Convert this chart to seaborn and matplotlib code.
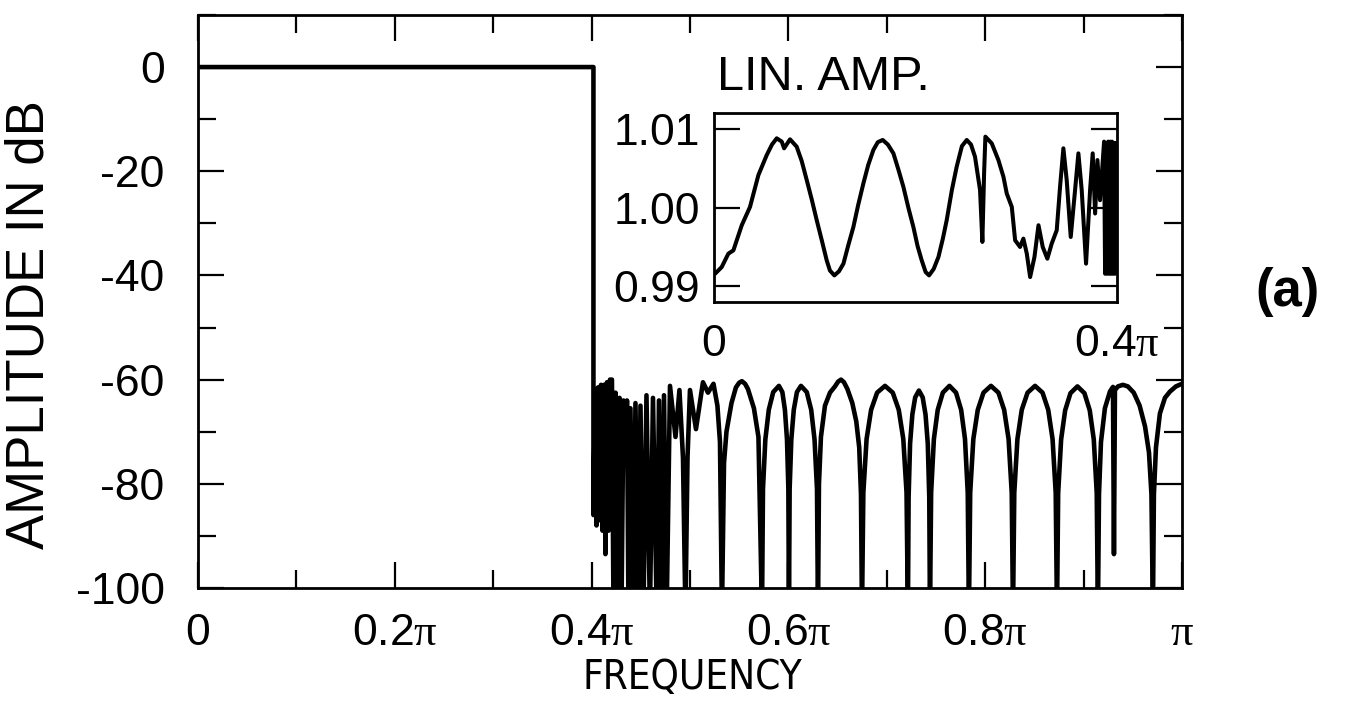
import matplotlib
matplotlib.use("Agg")
import matplotlib.pyplot as plt
import seaborn as sns
from matplotlib import font_manager
from matplotlib.font_manager import FontProperties
from matplotlib.ticker import MultipleLocator

# Magnitude response, frequency in units of pi, amplitude in dB
freq = [0.0, 0.4019, 0.4019, 0.4035, 0.4050, 0.4065, 0.4080, 0.4096, 0.4111, 0.4126,
        0.4141, 0.4157, 0.4172, 0.4187, 0.4207, 0.4223, 0.4243, 0.4263, 0.4284, 0.4304,
        0.4324, 0.4345, 0.4360, 0.4375, 0.4395, 0.4426, 0.4446, 0.4477, 0.4497, 0.4527,
        0.4558, 0.4593, 0.4624, 0.4662, 0.4685, 0.4712, 0.4736, 0.4763, 0.4797, 0.4853,
        0.4893, 0.4929, 0.4954, 0.4975, 0.5000, 0.5061, 0.5132, 0.5183, 0.5239, 0.5279,
        0.5305, 0.5325, 0.5346, 0.5371, 0.5422, 0.5467, 0.5500, 0.5528, 0.5560, 0.5589,
        0.5650, 0.5696, 0.5732,
        0.5742, 0.5766, 0.5801, 0.5846, 0.5904, 0.5939, 0.5965, 0.5986, 0.6000, 0.6006,
        0.6013, 0.6030, 0.6055, 0.6087, 0.6128, 0.6187, 0.6232, 0.6266, 0.6291, 0.6301,
        0.6311, 0.6331, 0.6372, 0.6423, 0.6474, 0.6505, 0.6535, 0.6565, 0.6600, 0.6650,
        0.6690, 0.6720, 0.6738, 0.6748,
        0.6762, 0.6795, 0.6841, 0.6902, 0.6982, 0.7061, 0.7122, 0.7168, 0.7201, 0.7215,
        0.7222, 0.7237, 0.7260, 0.7289, 0.7327, 0.7365, 0.7394, 0.7417, 0.7432, 0.7439,
        0.7451, 0.7479, 0.7518, 0.7570, 0.7637, 0.7704, 0.7756, 0.7795, 0.7823, 0.7835,
        0.7848, 0.7880, 0.7925, 0.7983, 0.8059, 0.8135, 0.8193, 0.8238, 0.8270, 0.8283,
        0.8296, 0.8328, 0.8372, 0.8431, 0.8507, 0.8583, 0.8641, 0.8685, 0.8717, 0.8730,
        0.8742, 0.8772, 0.8813, 0.8867, 0.8938, 0.9009, 0.9063, 0.9104, 0.9134, 0.9146,
        0.9157, 0.9177, 0.9217, 0.9268, 0.9299, 0.9309, 0.9319, 0.9350, 0.9400, 0.9450,
        0.9510, 0.9570, 0.9625, 0.9665, 0.9690, 0.9705,
        0.9715, 0.9736, 0.9776, 0.9827, 0.9878, 0.9939, 1.0]
amp_db = [0.0, 0.0, -86, -62, -88, -61.5, -87, -61, -89, -61,
          -93.5, -60.5, -89, -60, -60, -105, -62.5, -105, -63.5, -105,
          -64, -76, -64, -105, -65.5, -105, -64.5, -105, -65, -105,
          -63, -105, -63.5, -105, -64, -105, -63, -105, -61.2, -71,
          -62, -75, -105, -75, -62, -69.5, -60.5, -62.5, -60.8, -65,
          -72, -105, -76, -70, -64.5, -61.5, -60.6, -60.3, -60.8, -61.8,
          -65.5, -71, -105,
          -81, -71.5, -65.8, -62.4, -61.2, -62.4, -65.8, -71.5, -81, -105,
          -81, -71.5, -65.8, -62.4, -61.2, -62.4, -65.8, -71.5, -81, -105,
          -80, -71, -65, -62.5, -61.3, -60.4, -60, -60.5, -61.8, -64.5,
          -68, -73, -82, -105,
          -81.7, -71.4, -65.8, -62.5, -61.2, -62.5, -65.8, -71.4, -81.7, -105,
          -82.6, -72.3, -66.7, -63.4, -62.1, -63.4, -66.7, -72.3, -82.6, -105,
          -81.7, -71.4, -65.8, -62.5, -61.2, -62.5, -65.8, -71.4, -81.7, -105,
          -81.7, -71.4, -65.8, -62.5, -61.2, -62.5, -65.8, -71.4, -81.7, -105,
          -81.7, -71.4, -65.8, -62.5, -61.2, -62.5, -65.8, -71.4, -81.7, -105,
          -81.8, -71.5, -65.9, -62.6, -61.3, -62.6, -65.9, -71.5, -81.8, -105,
          -82, -72, -65.5, -62.3, -61.4, -93.5, -62, -61.3, -61.0, -61.3,
          -62.5, -65, -69, -74, -82, -105,
          -82, -73, -66.5, -63.5, -62.3, -61.3, -60.8]

# Passband detail (inset), linear amplitude
freq_pass = [0.001, 0.0076, 0.0142, 0.0192, 0.0275, 0.0357, 0.044, 0.0523, 0.0575, 0.0622,
             0.0672, 0.0695, 0.0754, 0.082, 0.087, 0.092, 0.097, 0.1019, 0.107, 0.1118,
             0.115, 0.1194, 0.124, 0.1284, 0.133, 0.1383, 0.143, 0.1482, 0.153, 0.1581,
             0.1625, 0.1674, 0.1725, 0.178, 0.183, 0.1879, 0.193, 0.1978, 0.202, 0.2061,
             0.21, 0.2134, 0.218, 0.2227, 0.227, 0.2309, 0.236, 0.2408, 0.246, 0.2508,
             0.255, 0.259, 0.264, 0.2663, 0.268, 0.2693, 0.2756, 0.2822, 0.2872, 0.2905,
             0.2955, 0.2988, 0.3037, 0.307, 0.3104, 0.3137, 0.318, 0.322, 0.3262, 0.3308,
             0.3351, 0.3401, 0.3434, 0.3467, 0.35, 0.354, 0.3583, 0.3616, 0.3649, 0.3692,
             0.3732, 0.3758, 0.3782, 0.3805, 0.3831,
             0.3871, 0.3881, 0.3891, 0.3901, 0.3911, 0.3921, 0.3931, 0.3940, 0.3950, 0.3960,
             0.3970, 0.3980, 0.3990]
amp_lin = [0.99159, 0.99244, 0.99414, 0.99456, 0.99775, 1.00008, 1.00412, 1.00667, 1.0080, 1.00879,
           1.00837, 1.00752, 1.00866, 1.00773, 1.0059, 1.00348, 1.0010, 0.99839, 0.9958, 0.99329,
           0.9920, 0.99138, 0.9919, 0.99287, 0.9951, 0.99754, 1.0003, 1.00306, 1.0054, 1.0073,
           1.0083, 1.00858, 1.0080, 1.00688, 1.0048, 1.00263, 0.9999, 0.99754, 0.9951, 0.99329,
           0.9918, 0.99138, 0.9922, 0.99372, 0.9960, 0.99839, 1.0022, 1.00518, 1.0078, 1.00858,
           1.0080, 1.00645, 1.00221, 0.99563, 1.00433, 1.009, 1.00815, 1.00603, 1.00391, 1.00178,
           1.00008, 0.99584, 0.99499, 0.99605, 0.99414, 0.99117, 0.99372, 0.99775, 0.99499, 0.9935,
           0.99541, 0.99711, 1.00263, 1.00752, 1.00348, 0.99626, 1.00221, 1.00688, 1.00221, 0.99287,
           1.00221, 1.00688, 0.99924, 1.00603, 1.00093,
           1.00837, 0.99159, 1.0082, 0.99159, 1.00837, 0.99159, 1.00837, 0.99159, 1.00837, 0.99159,
           1.0082, 0.99159, 1.0082]

xticks = [0, 0.2, 0.4, 0.6, 0.8, 1.0]
xtick_labels = ["0", "0.2$\\pi$", "0.4$\\pi$", "0.6$\\pi$", "0.8$\\pi$", "$\\pi$"]
yticks = [0, -20, -40, -60, -80, -100]
ytick_labels = ["0", "-20", "-40", "-60", "-80", "-100"]
inset_yticks = [0.99, 1.00, 1.01]
inset_ytick_labels = ["0.99", "1.00", "1.01"]

sns.set_style("ticks")
plt.rcParams['font.family'] = ['Liberation Sans', 'DejaVu Sans']
plt.rcParams['mathtext.fontset'] = 'custom'
plt.rcParams['mathtext.rm'] = 'Liberation Serif'
plt.rcParams['mathtext.it'] = 'Liberation Serif'
for key in ['text.color', 'axes.labelcolor', 'xtick.color', 'ytick.color', 'axes.edgecolor']:
    plt.rcParams[key] = 'black'

# a narrow face for the x-axis title, if one is installed
narrow_file = None
for f in font_manager.fontManager.ttflist:
    fn = f.fname.lower()
    if ('narrow' in fn or 'condensed' in fn) and 'sans' in fn and not any(w in fn for w in ['bold', 'oblique', 'italic', 'mono']):
        narrow_file = f.fname
        break
if narrow_file:
    freq_font = FontProperties(fname=narrow_file, size=29)
else:
    freq_font = FontProperties(family='Liberation Sans', size=26)

fig = plt.figure(figsize=(13.57, 7.03), dpi=100)
ax = fig.add_axes([0.1459, 0.1636, 0.7251, 0.8151])
sns.lineplot(x=freq, y=amp_db, sort=False, estimator=None, color='black', linewidth=3.3, ax=ax)
ax.set_xlim(0, 1)
ax.set_ylim(-100, 10)
ax.set_xticks(xticks)
ax.set_xticklabels(xtick_labels)
ax.set_yticks(yticks)
ax.set_yticklabels(ytick_labels)
ax.xaxis.set_minor_locator(MultipleLocator(0.1))
ax.yaxis.set_minor_locator(MultipleLocator(10))
ax.tick_params(which='both', direction='in', top=True, right=True, width=1.6, labelsize=32)
ax.tick_params(which='major', length=19)
ax.tick_params(which='minor', length=13)
ax.tick_params(axis='x', pad=18)
ax.tick_params(axis='y', pad=24)
for s in ax.spines.values():
    s.set_linewidth(2)
ax.set_xlabel('')
ax.set_ylabel('')

# inset: linear amplitude in the passband
axi = fig.add_axes([0.5262, 0.5704, 0.2970, 0.2688])
sns.lineplot(x=freq_pass, y=amp_lin, sort=False, estimator=None, color='black', linewidth=2.9, ax=axi)
axi.set_xlim(0, 0.4)
axi.set_ylim(0.988, 1.012)
axi.set_xticks([0, 0.4])
axi.set_xticklabels(["0", "0.4$\\pi$"])
axi.set_yticks(inset_yticks)
axi.set_yticklabels(inset_ytick_labels)
axi.tick_params(axis='y', which='major', direction='in', left=True, right=True, length=19, width=1.6, labelsize=32, pad=10)
axi.tick_params(axis='x', length=0, labelsize=32, pad=16)
for s in axi.spines.values():
    s.set_linewidth(2)
axi.set_xlabel('')
axi.set_ylabel('')

fig.text(717 / 1357, 1 - 77 / 703, "LIN. AMP.", fontsize=35, ha='left', va='center')
fig.text(30 / 1357, 1 - 325 / 703, "AMPLITUDE IN dB", fontsize=38, rotation=90, ha='center', va='center')
fig.text(692 / 1357, 1 - 678 / 703, "FREQUENCY", fontproperties=freq_font, ha='center', va='center')
fig.text(1288 / 1357, 1 - 292 / 703, "(a)", fontsize=38, fontweight='bold', ha='center', va='center')

fig.savefig("out.png", dpi=100)
